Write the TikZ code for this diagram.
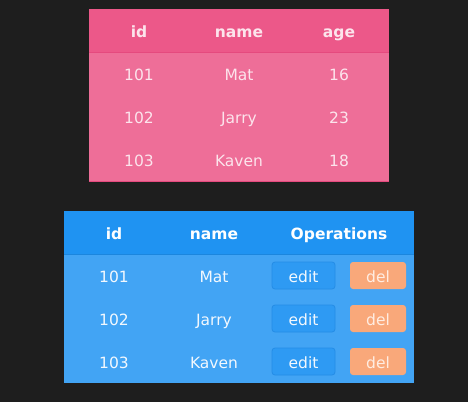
\documentclass[tikz,border=0pt]{standalone}
\usepackage{fontspec}
\setmainfont{DejaVu Sans}
\usepackage{tikz}
\usetikzlibrary{positioning}

\definecolor{bgdark}{HTML}{1E1E1E}
\definecolor{pinkhead}{HTML}{EC5889}
\definecolor{pinkrow}{HTML}{EE6E98}
\definecolor{pinkline}{HTML}{E54A7E}
\definecolor{pinktext}{HTML}{FCE4EC}
\definecolor{bluehead}{HTML}{1F93F2}
\definecolor{bluerow}{HTML}{42A4F4}
\definecolor{blueline}{HTML}{1B86DE}
\definecolor{bluetext}{HTML}{F2F8FE}
\definecolor{editblue}{HTML}{2E9AF3}
\definecolor{editedge}{HTML}{258DE6}
\definecolor{delorange}{HTML}{F9A87A}
\definecolor{deltext}{HTML}{FFEDE2}

\tikzset{
  cell/.style={inner sep=0pt, text height=13pt, text depth=0pt,
    font=\fontsize{15.5}{18}\selectfont},
  headcell/.style={cell, font=\fontsize{15.5}{18}\selectfont\bfseries},
  pinkcell/.style={cell, text=pinktext},
  pinkhd/.style={headcell, text=pinktext},
  bluecell/.style={cell, text=bluetext},
  bluehd/.style={headcell, text=white},
  btn/.style={cell, minimum width=63pt, minimum height=27pt,
    rounded corners=3pt},
  editbtn/.style={btn, fill=editblue, draw=editedge, line width=0.8pt, text=bluetext},
  delbtn/.style={btn, minimum width=56pt, fill=delorange, text=deltext},
}

\begin{document}
\begin{tikzpicture}[x=1pt,y=-1pt]
    \fill[bgdark] (0,0) rectangle (468,402);
    \useasboundingbox (0,0) rectangle (468,402);
%   pink table
    \fill[pinkrow] (89,9) rectangle (389,181.5);
    \fill[pinkhead] (89,9) rectangle (389,52);
    \draw[pinkline,line width=1pt] (89,52) -- (389,52);
    \draw[pinkline,line width=1pt] (89,181) -- (389,181);

    \node[pinkhd] at (139,30.5) (pid) {id};
    \node[pinkhd] at (239,30.5) (pname) {name};
    \node[pinkhd] at (339,30.5) (page) {age};

    \node[pinkcell] at (139,73.5) (pid1) {101};
    \node[pinkcell] at (239,73.5) (pname1) {Mat};
    \node[pinkcell] at (339,73.5) (page1) {16};
    \node[pinkcell] at (139,116.5) (pid2) {102};
    \node[pinkcell] at (239,116.5) (pname2) {Jarry};
    \node[pinkcell] at (339,116.5) (page2) {23};
    \node[pinkcell] at (139,159.5) (pid3) {103};
    \node[pinkcell] at (239,159.5) (pname3) {Kaven};
    \node[pinkcell] at (339,159.5) (page3) {18};

%   blue table
    \fill[bluerow] (64,211) rectangle (414,383);
    \fill[bluehead] (64,211) rectangle (414,254);
    \draw[blueline,line width=1pt] (64,254) -- (414,254);

    \node[bluehd] at (114,232.5) (bid) {id};
    \node[bluehd] at (214,232.5) (bname) {name};
    \node[bluehd] at (339,232.5) (bops) {Operations};

    \node[bluecell] at (114,275.5) (bid1) {101};
    \node[bluecell] at (214,275.5) (bname1) {Mat};
    \node[editbtn] at (303.5,275.5) (edit1) {edit};
    \node[delbtn] at (378,275.5) (del1) {del};
    \node[bluecell] at (114,318.5) (bid2) {102};
    \node[bluecell] at (214,318.5) (bname2) {Jarry};
    \node[editbtn] at (303.5,318.5) (edit2) {edit};
    \node[delbtn] at (378,318.5) (del2) {del};
    \node[bluecell] at (114,361.5) (bid3) {103};
    \node[bluecell] at (214,361.5) (bname3) {Kaven};
    \node[editbtn] at (303.5,361.5) (edit3) {edit};
    \node[delbtn] at (378,361.5) (del3) {del};
\end{tikzpicture}
\end{document}
